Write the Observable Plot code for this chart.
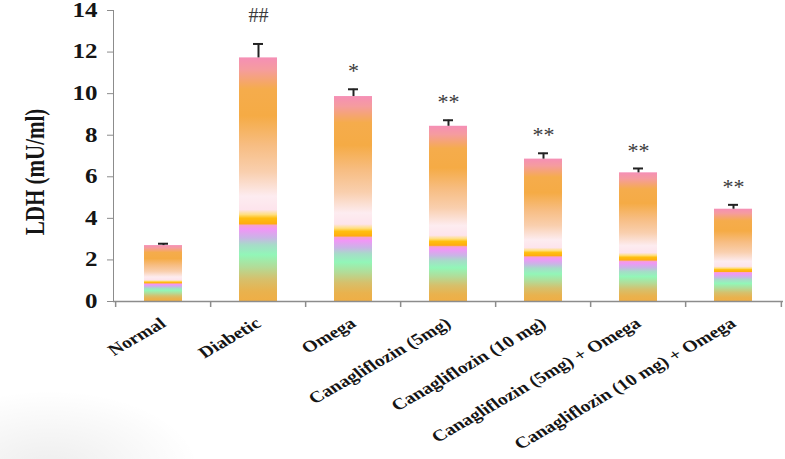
<!DOCTYPE html>
<html><head><meta charset="utf-8">
<script src="https://cdn.jsdelivr.net/npm/d3@7"></script>
<script src="https://cdn.jsdelivr.net/npm/@observablehq/plot@0.6"></script>
<style>
html,body{margin:0;padding:0;}
body{width:785px;height:459px;overflow:hidden;background:radial-gradient(ellipse 150px 80px at 50px 470px, rgba(0,0,0,0.07), rgba(0,0,0,0) 100%), #fff;}
#chart svg{display:block;}
#chart svg [aria-label^="x-axis"] text, #chart svg [aria-label^="y-axis"] text{fill:#151515;}
</style></head><body>
<svg width="0" height="0" style="position:absolute"><defs>
<linearGradient id="ldhGrad" x1="0" y1="1" x2="0" y2="0">
<stop offset="0" stop-color="#efae45"/>
<stop offset="0.04" stop-color="#e9b24e"/>
<stop offset="0.09" stop-color="#d6c06c"/>
<stop offset="0.14" stop-color="#b2dc98"/>
<stop offset="0.19" stop-color="#92f6b8"/>
<stop offset="0.23" stop-color="#a6dcc8"/>
<stop offset="0.26" stop-color="#cab4e6"/>
<stop offset="0.295" stop-color="#f196f6"/>
<stop offset="0.31" stop-color="#f5a0d0"/>
<stop offset="0.318" stop-color="#ffac10"/>
<stop offset="0.34" stop-color="#ffbf10"/>
<stop offset="0.355" stop-color="#ffdf80"/>
<stop offset="0.375" stop-color="#fde4ec"/>
<stop offset="0.43" stop-color="#fdecf0"/>
<stop offset="0.53" stop-color="#f9cfae"/>
<stop offset="0.64" stop-color="#f7bd82"/>
<stop offset="0.76" stop-color="#f5ab45"/>
<stop offset="0.87" stop-color="#f5ac4c"/>
<stop offset="0.95" stop-color="#f59c9e"/>
<stop offset="1" stop-color="#f58fb6"/>
</linearGradient></defs></svg>
<div id="chart"></div>
<script>
const groups = ["Normal", "Diabetic", "Omega", "Canagliflozin (5mg)", "Canagliflozin (10 mg)", "Canagliflozin (5mg) + Omega", "Canagliflozin (10 mg) + Omega"];
const ldh = [2.69, 11.72, 9.86, 8.43, 6.85, 6.19, 4.44];
const sem = [0.09, 0.67, 0.35, 0.29, 0.28, 0.21, 0.21];
const sig = ["", "##", "*", "**", "**", "**", "**"];
const yTicks = [0, 2, 4, 6, 8, 10, 12, 14];
const yLabel = "LDH (mU/ml)";

const data = groups.map((g, i) => ({group: g, value: ldh[i], err: sem[i], sig: sig[i]}));
const W = 785, H = 459, mL = 113, mR = 2, mT = 10, mB = 158;
const step = (W - mL - mR) / groups.length;
const font = "'Liberation Serif','Times New Roman',serif";
const grey = "#8c8c8c";

const chart = Plot.plot({
  width: W, height: H, marginLeft: mL, marginRight: mR, marginTop: mT, marginBottom: mB,
  style: {fontFamily: font, fontWeight: "bold", fontSize: "20px", color: grey, background: "transparent", overflow: "visible"},
  x: {domain: groups, paddingInner: 0.6, paddingOuter: 0.3, label: null, tickSize: 0, tickPadding: 20, tickRotate: -35.6},
  y: {domain: [0, 14], ticks: yTicks, tickSize: 6, tickPadding: 10, label: null, line: true},
  marks: [
    Plot.barY(data, {x: "group", y: "value", fill: "url(#ldhGrad)"}),
    Plot.ruleY([0], {stroke: grey, strokeWidth: 1.5}),
    Plot.ruleX(groups, {x: d => d, y1: 0, y2: 0, insetBottom: -6, dx: -step / 2, stroke: grey, strokeWidth: 1.5}),
    Plot.ruleX([groups[groups.length - 1]], {x: d => d, y1: 0, y2: 0, insetBottom: -6, dx: step / 2, stroke: grey, strokeWidth: 1.5}),
    Plot.ruleX(data, {x: "group", y1: "value", y2: d => d.value + d.err, stroke: "#222", strokeWidth: 2}),
    Plot.tickY(data, {x: "group", y: d => d.value + d.err, stroke: "#222", strokeWidth: 2, insetLeft: 14, insetRight: 14}),
    Plot.text(data.filter(d => d.sig.startsWith("#")), {x: "group", y: d => d.value + d.err, text: "sig", dy: -28, fill: "#3a3a3a", fontSize: 20, fontWeight: "normal"}),
    Plot.text(data.filter(d => d.sig.startsWith("*")), {x: "group", y: d => d.value + d.err, text: "sig", dy: -18, fill: "#3a3a3a", fontSize: 22, fontWeight: "normal"})
  ]
});
document.getElementById("chart").appendChild(chart);

// horizontal stretch of the axis text, as in the reference image
function stretch(el) {
  const t = el.getAttribute("transform") || "";
  if (/rotate\(/.test(t)) el.setAttribute("transform", t.replace(/rotate\(/, "scale(1.25,1) rotate("));
  else el.setAttribute("transform", (t + " scale(1.25,1)").trim());
}
chart.querySelectorAll('[aria-label^="y-axis"] text').forEach(stretch);
chart.querySelectorAll('[aria-label^="x-axis"] text').forEach(el => { el.style.fontSize = "16px"; stretch(el); });

d3.select(chart).append("text")
  .attr("transform", "translate(44,172) scale(1.25,1) rotate(-90)")
  .attr("text-anchor", "middle")
  .attr("fill", "#151515")
  .style("font-size", "21px").style("font-weight", "bold").style("font-family", font)
  .text(yLabel);
</script>
</body></html>
